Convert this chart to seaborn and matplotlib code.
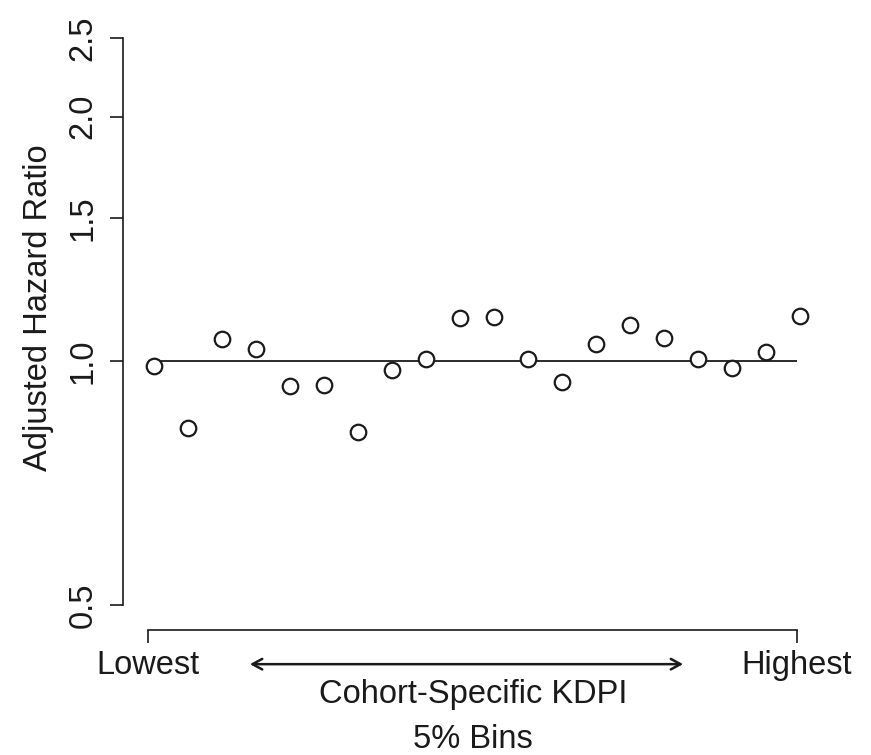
import numpy as np
import pandas as pd
import matplotlib
matplotlib.use("Agg")
import matplotlib.pyplot as plt
import seaborn as sns

# data: 20 bins of cohort-specific KDPI (5% each), adjusted hazard ratio
bins = list(range(1, 21))
hazard_ratio = [0.986, 0.826, 1.064, 1.035, 0.930, 0.934, 0.816, 0.975, 1.006, 1.130,
                1.132, 1.005, 0.943, 1.049, 1.107, 1.067, 1.005, 0.981, 1.024, 1.136]
y_ticks = [0.5, 1.0, 1.5, 2.0, 2.5]
y_ticklabels = ["0.5", "1.0", "1.5", "2.0", "2.5"]
x_ticklabels = ["Lowest", "Highest"]

df = pd.DataFrame({"bin": bins, "hr": hazard_ratio})

sns.set_style("ticks")
plt.rcParams["font.family"] = ["Liberation Sans", "DejaVu Sans"]
FS = 23.5
ink = "#1a1a1a"

fig = plt.figure(figsize=(8.71, 7.55), dpi=100)
ax = fig.add_axes([123 / 871, 125 / 755, 707 / 871, 610 / 755])

ax.set_yscale("log")
ax.set_xlim(0.088, 20.88)
ax.set_ylim(0.4658, 2.631)

# reference line at HR = 1
ax.hlines(1.0, 0.82, 19.91, color=ink, lw=1.3, zorder=1)

sns.scatterplot(data=df, x="bin", y="hr", ax=ax, marker="o", s=125,
                facecolor="white", edgecolor=ink, linewidth=1.6, zorder=3)

# axes in R style
ax.spines["top"].set_visible(False)
ax.spines["right"].set_visible(False)
for side in ["left", "bottom"]:
    ax.spines[side].set_color(ink)
    ax.spines[side].set_linewidth(1.2)
ax.spines["left"].set_bounds(0.5, 2.5)
ax.spines["bottom"].set_bounds(0.82, 19.91)

ax.set_yticks(y_ticks)
ax.set_yticklabels(y_ticklabels)
ax.yaxis.set_minor_locator(matplotlib.ticker.NullLocator())
ax.set_xticks([0.82, 19.91])
ax.set_xticklabels(x_ticklabels)
ax.tick_params(axis="both", direction="out", length=9.5, width=1.2, color=ink,
               labelsize=FS, labelcolor=ink)
ax.tick_params(axis="y", pad=8)
ax.tick_params(axis="x", pad=5)
plt.setp(ax.get_yticklabels(), rotation=90, va="center")

ax.set_ylabel("Adjusted Hazard Ratio", fontsize=FS, color=ink)
ax.yaxis.set_label_coords(-0.097, 0.5287)
ax.set_xlabel("Cohort-Specific KDPI\n5% Bins", fontsize=FS, color=ink, linespacing=1.6)
ax.xaxis.set_label_coords(0.495, -0.08)

# double-headed arrow under the x axis
ax.annotate("", xy=(16.56, -0.056), xytext=(3.82, -0.056),
            xycoords=("data", "axes fraction"), textcoords=("data", "axes fraction"),
            arrowprops=dict(arrowstyle="<->,head_length=0.7,head_width=0.38",
                            color=ink, lw=1.8, shrinkA=0, shrinkB=0),
            annotation_clip=False)

fig.savefig("out.png", dpi=100, facecolor="white")
